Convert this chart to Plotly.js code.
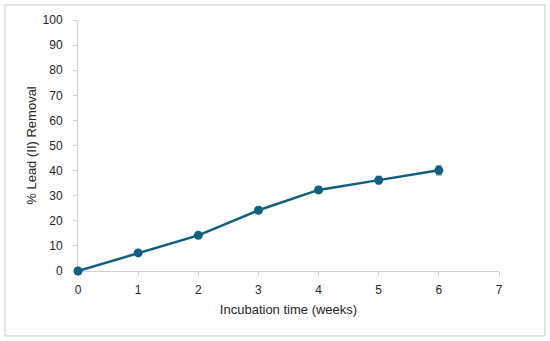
<!DOCTYPE html>
<html>
<head>
<meta charset="utf-8">
<script src="https://cdn.plot.ly/plotly-3.0.1.min.js"></script>
<style>html,body{margin:0;padding:0;background:#fff;}#chart{width:550px;height:341px;}</style>
</head>
<body>
<div id="chart"></div>
<script>
const weeks = [0, 1, 2, 3, 4, 5, 6];
const removal = [0, 7.2, 14.2, 24.2, 32.3, 36.2, 40.1];
const errors = [null, null, null, null, 1.3, 1.5, 1.8];
const xTicks = [0, 1, 2, 3, 4, 5, 6, 7];
const yTicks = [0, 10, 20, 30, 40, 50, 60, 70, 80, 90, 100];

const trace = {
  x: weeks, y: removal, type: 'scatter', mode: 'lines+markers',
  line: {color: '#0f5f80', width: 2.5},
  marker: {color: '#0f5f80', size: 9},
  error_y: {type: 'data', array: errors, visible: true, color: '#7f7f7f', thickness: 1.2, width: 3},
  cliponaxis: false,
  showlegend: false
};

const fam = 'Liberation Sans, Arial, sans-serif';
const axisFont = {family: fam, size: 12, color: '#262626'};
const layout = {
  width: 550, height: 341,
  margin: {l: 78, r: 51, t: 20, b: 70},
  paper_bgcolor: '#ffffff', plot_bgcolor: '#ffffff',
  xaxis: {
    range: [0, 7], tickvals: xTicks, ticktext: xTicks.map(String),
    showgrid: false, zeroline: false, showline: true, linecolor: '#d0d0d0', linewidth: 1,
    ticks: 'outside', ticklen: 4, tickcolor: '#d0d0d0', ticklabelstandoff: 4,
    layer: 'below traces',
    tickfont: axisFont,
    title: {text: 'Incubation time (weeks)', font: {family: fam, size: 13, color: '#262626'}, standoff: 8}
  },
  yaxis: {
    range: [0, 100], tickvals: yTicks, ticktext: yTicks.map(String),
    showgrid: false, zeroline: false, showline: true, linecolor: '#d0d0d0', linewidth: 1,
    ticks: 'outside', ticklen: 4, tickcolor: '#d0d0d0', ticklabelstandoff: 8,
    layer: 'below traces',
    tickfont: axisFont,
    title: {text: '% Lead (II) Removal', font: {family: fam, size: 13, color: '#262626'}, standoff: 3}
  },
  shapes: [{
    type: 'rect', xref: 'paper', yref: 'paper',
    x0: -0.1734, x1: 1.1093, y0: -0.259, y1: 1.0598,
    line: {color: '#c8c8c8', width: 1}, fillcolor: 'rgba(0,0,0,0)'
  }]
};

Plotly.newPlot('chart', [trace], layout, {displayModeBar: false, staticPlot: true});
</script>
</body>
</html>
